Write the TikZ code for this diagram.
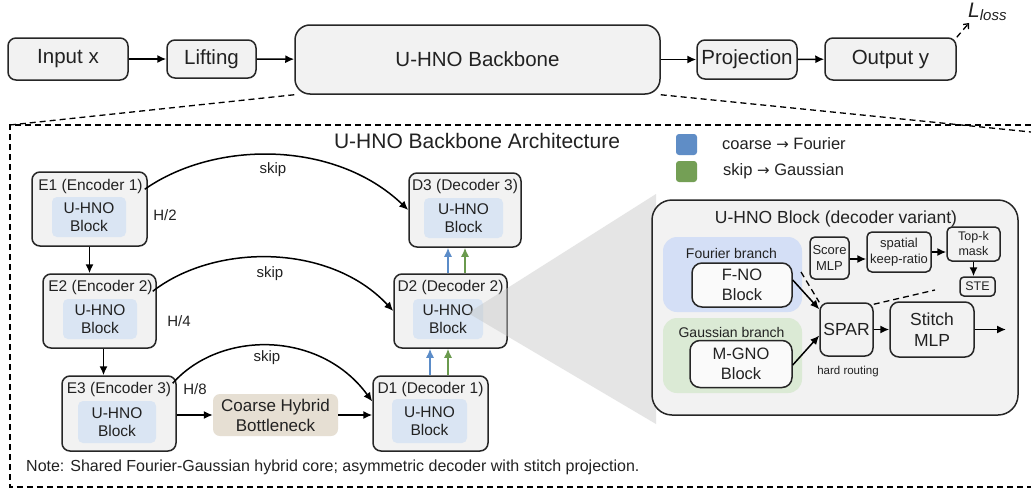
\documentclass[tikz,border=0pt]{standalone}
\usepackage{fontspec}
\setmainfont{Liberation Sans}
\newfontfamily\djv{DejaVu Sans}
\usetikzlibrary{arrows.meta}
\definecolor{boxgray}{HTML}{F2F2F2}
\definecolor{blkblue}{HTML}{DAE5F3}
\definecolor{beige}{HTML}{E6DFD3}
\definecolor{fourbg}{HTML}{D4DFF6}
\definecolor{gaussbg}{HTML}{DBEAD5}
\definecolor{arrblue}{HTML}{5B8CC8}
\definecolor{arrgreen}{HTML}{6A9A4E}
\definecolor{legblue}{HTML}{5F8DC6}
\definecolor{leggreen}{HTML}{749F55}
\definecolor{txt}{HTML}{222222}
\newcommand{\fs}[2]{\fontsize{#1}{#2}\selectfont}
\tikzset{
  box/.style={draw=black!85, line width=1.5pt, fill=boxgray, rounded corners=8pt, inner sep=0pt, align=center, text=txt},
  blk/.style={fill=blkblue, rounded corners=5pt, inner sep=0pt, align=center, font=\fs{15.5}{18}, text=txt},
  lbl/.style={inner sep=0pt, text=txt},
  arr/.style={line width=1.5pt, -{Latex[length=9pt,width=8pt]}},
  barr/.style={line width=1.5pt, draw=arrblue, -{Latex[length=9pt,width=8pt]}, arrblue},
  garr/.style={line width=1.5pt, draw=arrgreen, -{Latex[length=9pt,width=8pt]}, arrgreen},
  dsh/.style={line width=1.3pt, dash pattern=on 6pt off 4pt},
}
\begin{document}
\begin{tikzpicture}[x=1pt,y=-1pt]
\useasboundingbox (0,0) rectangle (1031,490);
\fill[white] (0,0) rectangle (1031,490);

% top row
\node[box, minimum width=120pt, minimum height=42pt, font=\fs{20.5}{24}] (input) at (68,59) {Input x};
\node[box, minimum width=89pt, minimum height=38pt, font=\fs{20.5}{24}] (lift) at (211.5,59) {Lifting};
\node[box, rounded corners=15pt, minimum width=365pt, minimum height=69pt, font=\fs{20.5}{24}] (backbone) at (477.5,59.5) {U-HNO Backbone};
\node[box, minimum width=100pt, minimum height=39pt, font=\fs{20.5}{24}] (proj) at (747,59.5) {Projection};
\node[box, minimum width=131pt, minimum height=42pt, font=\fs{20.5}{24}] (output) at (890.5,59) {Output y};
\node[lbl, anchor=west] (lloss) at (968,12) {\fs{21}{24}\itshape L\raisebox{-3pt}{\fs{15}{18}\itshape loss}};
\draw[arr] (input) -- (lift);
\draw[arr] (lift) -- (backbone);
\draw[arr] (backbone) -- (proj);
\draw[arr] (proj) -- (output);
\draw[dsh, -{Straight Barb[length=4pt,width=7pt]}] (output.north east) -- ([xshift=1pt,yshift=-2pt]lloss.south west);

% container
\coordinate (cTL) at (10,125);
\coordinate (cBL) at (10,487);
\coordinate (cTR) at (1031,125);
\coordinate (cBR) at (1031,487);
\coordinate (cDR) at (1031,132);
\draw[dsh] (cTR) -- (cTL) -- (cBL) -- (cBR);
\draw[dsh] (backbone.south west) -- (cTL);
\draw[dsh] (backbone.south east) -- (cDR);

\node[lbl, font=\fs{21}{24}] (title) at (477,141) {U-HNO Backbone Architecture};

% legend
\node[fill=legblue, rounded corners=3pt, minimum size=21pt, inner sep=0pt] (lb) at (686.5,144.5) {};
\node[fill=leggreen, rounded corners=3pt, minimum size=21pt, inner sep=0pt] (lg) at (686.5,171.5) {};
\node[lbl, anchor=west, font=\fs{16.5}{19}] (lbt) at (722,143.5) {coarse {\djv\fs{15}{16}→} Fourier};
\node[lbl, anchor=west, font=\fs{16.5}{19}] (lgt) at (723,171) {skip {\djv\fs{15}{16}→} Gaussian};

% encoders
\node[box, minimum width=115pt, minimum height=74pt] (e1) at (89.5,209) {};
\node[lbl, font=\fs{15.5}{18}] (e1l) at (90.5,186) {E1 (Encoder 1)};
\node[blk, minimum width=74pt, minimum height=40pt] (e1b) at (89,217) {U-HNO\\Block};

\node[box, minimum width=113pt, minimum height=74pt] (e2) at (99.5,311) {};
\node[lbl, font=\fs{15.5}{18}] (e2l) at (100.5,287.5) {E2 (Encoder 2)};
\node[blk, minimum width=74pt, minimum height=40pt] (e2b) at (100,319) {U-HNO\\Block};

\node[box, minimum width=114pt, minimum height=75pt] (e3) at (119,413.5) {};
\node[lbl, font=\fs{15.5}{18}] (e3l) at (119,389) {E3 (Encoder 3)};
\node[blk, minimum width=78pt, minimum height=42pt] (e3b) at (117,422) {U-HNO\\Block};

% decoders
\node[box, minimum width=112pt, minimum height=74pt] (d3) at (465,210) {};
\node[lbl, font=\fs{15.5}{18}] (d3l) at (465,186.5) {D3 (Decoder 3)};
\node[blk, minimum width=79pt, minimum height=40pt] (d3b) at (463.5,218) {U-HNO\\Block};

\node[box, minimum width=113pt, minimum height=74pt] (d2) at (450.5,311) {};
\node[lbl, font=\fs{15.5}{18}] (d2l) at (450.5,287.5) {D2 (Decoder 2)};
\node[blk, minimum width=70pt, minimum height=40pt] (d2b) at (448,319) {U-HNO\\Block};

\node[box, minimum width=115pt, minimum height=75pt] (d1) at (430.5,413.5) {};
\node[lbl, font=\fs{15.5}{18}] (d1l) at (430.5,389) {D1 (Decoder 1)};
\node[blk, minimum width=75pt, minimum height=44pt] (d1b) at (429.5,421) {U-HNO\\Block};

\node[fill=beige, rounded corners=7pt, inner sep=0pt, minimum width=125pt, minimum height=42pt, align=center, font=\fs{17}{20}, text=txt] (bott) at (275.5,415) {Coarse Hybrid\\Bottleneck};

\node[lbl, font=\fs{15}{18}] (h2) at (165,215) {H/2};
\node[lbl, font=\fs{15}{18}] (h4) at (179,321) {H/4};
\node[lbl, font=\fs{15}{18}] (h8) at (195,389) {H/8};

\draw[arr] (e1.south) -- (e1.south |- e2.north);
\draw[arr] ([xshift=4pt]e2.south) -- ([xshift=4pt]e2.south |- e3.north);
\draw[arr] (e3.east |- bott.west) -- (bott.west);
\draw[arr] (bott.east) -- (bott.east -| d1.west);

% skips
\draw[arr] ([xshift=-3pt,yshift=-18pt]e1.north east) .. controls (215,140) and (335,140) .. (d3.west);
\draw[arr] ([xshift=-4pt,yshift=-18pt]e2.north east) .. controls (215,243) and (330,243) .. (d2.west);
\draw[arr] ([xshift=-4pt,yshift=-8pt]e3.north east) .. controls (220,330) and (320,330) .. ([yshift=12pt]d1.west);
\node[lbl, font=\fs{15}{18}] (s1) at (273,170) {skip};
\node[lbl, font=\fs{15}{18}] (s2) at (270,274) {skip};
\node[lbl, font=\fs{15}{18}] (s3) at (267,358) {skip};

% decoder up arrows
\draw[barr] ([xshift=-2.5pt]d2.north) -- ([xshift=-2.5pt]d2.north |- d3.south);
\draw[garr] ([xshift=14.5pt]d2.north) -- ([xshift=14.5pt]d2.north |- d3.south);
\draw[barr] ([xshift=-0.5pt]d1.north) -- ([xshift=-0.5pt]d1.north |- d2.south);
\draw[garr] ([xshift=17.5pt]d1.north) -- ([xshift=17.5pt]d1.north |- d2.south);

% zoom wedge
\coordinate (wa) at (468,313);
\coordinate (wt) at (656,194);
\coordinate (wb) at (656,424);
\fill[gray!45, opacity=0.45] (wa) -- (wt) -- (wb) -- cycle;

% decoder variant panel
\node[box, rounded corners=20pt, minimum width=366pt, minimum height=215pt] (panel) at (835,307.5) {};
\node[lbl, font=\fs{17.5}{20}] (ptitle) at (836,219) {U-HNO Block (decoder variant)};

\node[fill=fourbg, rounded corners=14pt, minimum width=139pt, minimum height=75pt, inner sep=0pt] (fb) at (732.5,274.5) {};
\node[lbl, font=\fs{14}{17}] (fbl) at (731.5,253) {Fourier branch};
\node[box, fill=white!60!boxgray, rounded corners=10pt, minimum width=100pt, minimum height=44pt, font=\fs{16.5}{20}] (fno) at (742,285) {F-NO\\Block};

\node[fill=gaussbg, rounded corners=14pt, minimum width=139pt, minimum height=75pt, inner sep=0pt] (gb) at (732.5,355.5) {};
\node[lbl, font=\fs{14}{17}] (gbl) at (731.5,332) {Gaussian branch};
\node[box, fill=white!60!boxgray, rounded corners=10pt, minimum width=102pt, minimum height=47pt, font=\fs{16.5}{20}] (mgno) at (741,364) {M-GNO\\Block};

\node[box, rounded corners=8pt, minimum width=53pt, minimum height=53pt, font=\fs{17.5}{20}] (spar) at (846.5,329.5) {SPAR};
\node[lbl, font=\fs{11.5}{14}] (hr) at (848,372) {hard routing};
\node[box, rounded corners=9pt, minimum width=84pt, minimum height=55pt, font=\fs{17.5}{21}] (stitch) at (932,329.5) {Stitch\\MLP};
\coordinate (outp) at (1006,329.5);

\node[box, rounded corners=5pt, minimum width=39pt, minimum height=42pt, font=\fs{13}{16}] (score) at (829.5,258) {Score\\MLP};
\node[box, rounded corners=5pt, minimum width=64pt, minimum height=40pt, font=\fs{13}{16}] (spat) at (899,252) {spatial\\keep-ratio};
\node[box, rounded corners=5pt, minimum width=53pt, minimum height=34pt, font=\fs{12.5}{15}] (topk) at (973.5,244) {Top-k\\mask};
\node[box, rounded corners=4pt, minimum width=35pt, minimum height=19pt, font=\fs{12.5}{15}] (ste) at (977.5,286.5) {STE};

\draw[arr] ([yshift=-1pt]score.east) -- ([yshift=-1pt]score.east -| spat.west);
\draw[arr] (spat.east) -- (spat.east -| topk.west);
\draw[arr] (topk.south) -- (topk.south |- ste.north);
\draw[arr] (spar) -- (stitch);
\draw[arr] (stitch) -- (outp);
\draw[arr] ([yshift=5pt]fno.east) -- ([yshift=-7pt]spar.north west);
\draw[arr] ([yshift=-1pt]mgno.east) -- ([yshift=-6pt]spar.west);
\coordinate (dA) at (801,272);
\coordinate (dB) at (935,290);
\draw[dsh] (dA) -- (spar.north west);
\draw[dsh] ([yshift=-2pt]spar.north east) -- (dB);

\node[lbl, anchor=west, font=\fs{16}{19}] (note) at (26,467) {Note: Shared Fourier-Gaussian hybrid core; asymmetric decoder with stitch projection.};
\end{tikzpicture}
\end{document}
